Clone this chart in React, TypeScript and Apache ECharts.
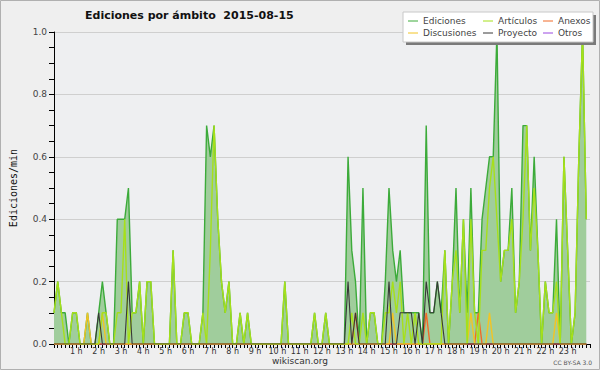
import React, { useEffect, useRef } from "react";
import * as echarts from "echarts";

// 10-minute bins over the day (edits per minute)
const ediciones = [
  0.1, 0.2, 0.1, 0.1, 0, 0.1, 0.1, 0, 0, 0.1,
  0, 0, 0.1, 0.2, 0.1, 0, 0, 0.4, 0.4, 0.4,
  0.5, 0.1, 0.1, 0.2, 0, 0.2, 0.2, 0, 0, 0,
  0, 0, 0.3, 0, 0, 0.1, 0.1, 0, 0, 0,
  0.1, 0.7, 0.6, 0.7, 0.4, 0.2, 0.1, 0.2, 0, 0,
  0.1, 0, 0.1, 0, 0, 0, 0, 0, 0, 0,
  0, 0, 0.2, 0, 0, 0, 0, 0, 0, 0,
  0.1, 0, 0, 0.1, 0, 0, 0, 0, 0, 0.6,
  0.3, 0.2, 0, 0.5, 0, 0.1, 0.1, 0, 0, 0.2,
  0.5, 0.3, 0.2, 0.3, 0.1, 0.1, 0.1, 0.1, 0.1, 0,
  0.7, 0.1, 0.1, 0.2, 0.1, 0.3, 0, 0.2, 0.5, 0.1,
  0.4, 0.1, 0.5, 0.1, 0.1, 0.4, 0.5, 0.6, 0.6, 1.0,
  0.2, 0.3, 0.3, 0.5, 0.1, 0.2, 0.7, 0.7, 0.3, 0.6,
  0.3, 0, 0.2, 0.1, 0.1, 0.4, 0, 0.6, 0.3, 0,
  0.1, 0.6, 1.0, 0.4,
];
const articulos = [
  0.1, 0.2, 0.1, 0, 0, 0.1, 0.1, 0, 0, 0,
  0, 0, 0, 0.1, 0.1, 0, 0, 0.1, 0.1, 0.4,
  0, 0.1, 0.1, 0.2, 0, 0.2, 0.2, 0, 0, 0,
  0, 0, 0.3, 0, 0, 0.1, 0.1, 0, 0, 0,
  0.1, 0, 0.3, 0.7, 0.4, 0.2, 0.1, 0.2, 0, 0,
  0.1, 0, 0.1, 0, 0, 0, 0, 0, 0, 0,
  0, 0, 0.2, 0, 0, 0, 0, 0, 0, 0,
  0.1, 0, 0, 0.1, 0, 0, 0, 0, 0, 0,
  0.1, 0, 0, 0.1, 0, 0.1, 0.1, 0, 0, 0.1,
  0.1, 0.2, 0.1, 0.2, 0, 0.1, 0, 0.1, 0, 0,
  0, 0, 0, 0, 0, 0.3, 0, 0.2, 0.3, 0.1,
  0.4, 0, 0.4, 0.1, 0, 0.3, 0.3, 0.5, 0.6, 0.4,
  0.2, 0.3, 0.3, 0.4, 0.1, 0.2, 0.4, 0.7, 0.3, 0.5,
  0.3, 0, 0.2, 0.1, 0.1, 0.2, 0, 0.6, 0.3, 0,
  0.1, 0.6, 1.0, 0.4,
];
const anexos = [
  0, 0, 0, 0, 0, 0, 0, 0, 0, 0,
  0, 0, 0, 0, 0, 0, 0, 0, 0, 0,
  0, 0, 0, 0, 0, 0, 0, 0, 0, 0,
  0, 0, 0, 0, 0, 0, 0, 0, 0, 0,
  0, 0, 0, 0, 0, 0, 0, 0, 0, 0,
  0, 0, 0, 0, 0, 0, 0, 0, 0, 0,
  0, 0, 0, 0, 0, 0, 0, 0, 0, 0,
  0, 0, 0, 0, 0, 0, 0, 0, 0, 0,
  0, 0.1, 0, 0, 0, 0, 0, 0, 0, 0,
  0, 0, 0, 0, 0, 0, 0, 0, 0, 0,
  0.1, 0, 0, 0, 0, 0, 0, 0, 0, 0,
  0, 0, 0, 0, 0.1, 0, 0, 0, 0, 0,
  0, 0, 0, 0, 0, 0, 0, 0, 0, 0,
  0, 0, 0, 0, 0, 0, 0, 0, 0, 0,
  0, 0, 0, 0,
];
const discusiones = [
  0, 0, 0, 0, 0, 0, 0, 0, 0, 0.1,
  0, 0, 0, 0.1, 0, 0, 0, 0, 0, 0,
  0, 0, 0, 0, 0, 0, 0, 0, 0, 0,
  0, 0, 0, 0, 0, 0, 0, 0, 0, 0,
  0, 0, 0, 0, 0, 0, 0, 0, 0, 0,
  0, 0, 0, 0, 0, 0, 0, 0, 0, 0,
  0, 0, 0, 0, 0, 0, 0, 0, 0, 0,
  0, 0, 0, 0, 0, 0, 0, 0, 0, 0,
  0, 0, 0, 0, 0, 0, 0, 0, 0, 0,
  0, 0.1, 0, 0, 0, 0, 0, 0, 0, 0,
  0, 0, 0, 0, 0, 0, 0, 0, 0, 0,
  0, 0, 0.1, 0, 0, 0, 0, 0.1, 0, 0,
  0, 0, 0, 0, 0, 0, 0, 0, 0, 0,
  0, 0, 0, 0, 0, 0.1, 0, 0, 0, 0,
  0, 0, 0, 0,
];
const proyecto = [
  0, 0, 0, 0, 0, 0, 0, 0, 0, 0,
  0, 0, 0.1, 0, 0, 0, 0, 0, 0, 0,
  0.2, 0, 0, 0, 0, 0, 0, 0, 0, 0,
  0, 0, 0, 0, 0, 0, 0, 0, 0, 0,
  0, 0, 0, 0, 0, 0, 0, 0, 0, 0,
  0, 0, 0, 0, 0, 0, 0, 0, 0, 0,
  0, 0, 0, 0, 0, 0, 0, 0, 0, 0,
  0, 0, 0, 0, 0, 0, 0, 0, 0, 0.2,
  0, 0.1, 0, 0, 0, 0, 0, 0, 0, 0,
  0.2, 0, 0, 0.1, 0.1, 0.1, 0.1, 0, 0.1, 0,
  0.2, 0.1, 0.1, 0.2, 0.1, 0, 0, 0, 0, 0,
  0, 0, 0, 0, 0, 0, 0, 0, 0, 0,
  0, 0, 0, 0, 0, 0, 0, 0, 0, 0,
  0, 0, 0, 0, 0, 0, 0, 0, 0, 0,
  0, 0, 0, 0,
];
const otros = [
  0, 0, 0, 0, 0, 0, 0, 0, 0, 0,
  0, 0, 0, 0, 0, 0, 0, 0, 0, 0,
  0, 0, 0, 0, 0, 0, 0, 0, 0, 0,
  0, 0, 0, 0, 0, 0, 0, 0, 0, 0,
  0, 0, 0, 0, 0, 0, 0, 0, 0, 0,
  0, 0, 0, 0, 0, 0, 0, 0, 0, 0,
  0, 0, 0, 0, 0, 0, 0, 0, 0, 0,
  0, 0, 0, 0, 0, 0, 0, 0, 0, 0,
  0, 0, 0, 0, 0, 0, 0, 0, 0, 0,
  0, 0, 0, 0, 0, 0, 0, 0, 0, 0,
  0, 0, 0, 0, 0, 0, 0, 0, 0, 0,
  0, 0, 0, 0, 0, 0, 0, 0, 0, 0,
  0, 0, 0, 0, 0, 0, 0, 0, 0, 0,
  0, 0, 0, 0, 0, 0, 0, 0, 0, 0,
  0, 0, 0, 0,
];

const BIN_MINUTES = 10;
const TITLE = "Ediciones por ámbito  2015-08-15";
const Y_NAME = "Ediciones/min";

const SERIES = [
  { name: "Ediciones", data: ediciones, color: "#3cab3a", area: true },
  { name: "Artículos", data: articulos, color: "#a6e01a", area: false },
  { name: "Anexos", data: anexos, color: "#f06a28", area: false },
  { name: "Discusiones", data: discusiones, color: "#f2c425", area: false },
  { name: "Proyecto", data: proyecto, color: "#383838", area: false },
  { name: "Otros", data: otros, color: "#9a48e0", area: false },
];
// legend layout: row 1 / row 2
const LEGEND_ROWS = [
  ["Ediciones", "Artículos", "Anexos"],
  ["Discusiones", "Proyecto", "Otros"],
];

const FONT = "'DejaVu Sans', sans-serif";

export default function App() {
  const ref = useRef<HTMLDivElement>(null);
  useEffect(() => {
    if (!ref.current) return;
    const chart = echarts.init(ref.current, null, { renderer: "svg" });

    const drawOrder = ["Ediciones", "Otros", "Anexos", "Discusiones", "Artículos", "Proyecto"];
    const series = drawOrder.map((n) => {
      const s = SERIES.find((x) => x.name === n)!;
      return {
        name: s.name,
        type: "line",
        symbol: "none",
        data: s.data.map((v, i) => [i * BIN_MINUTES, v]),
        lineStyle: { color: s.color, width: s.name === "Proyecto" ? 1.1 : 1.4 },
        itemStyle: { color: s.color },
        areaStyle: s.area ? { color: "#a0cd9c", opacity: 1 } : undefined,
        z: s.area ? 2 : 3,
      };
    });

    const colX = [408, 483, 543];
    const rowY = [21, 33];
    const legendEls: any[] = [
      { type: "rect", shape: { x: 406, y: 15, width: 190, height: 30 }, style: { fill: "#7a7a7a" } },
      { type: "rect", shape: { x: 403, y: 12, width: 190, height: 30 }, style: { fill: "#ffffff", stroke: "#c8c8c8", lineWidth: 1 } },
    ];
    LEGEND_ROWS.forEach((row, r) => {
      row.forEach((name, c) => {
        const s = SERIES.find((x) => x.name === name)!;
        legendEls.push({
          type: "line",
          shape: { x1: colX[c], y1: rowY[r], x2: colX[c] + 10, y2: rowY[r] },
          style: { stroke: s.color, lineWidth: 1 },
        });
        legendEls.push({
          type: "text",
          x: colX[c] + 15,
          y: rowY[r],
          style: { text: name, fill: "#444", font: `9px ${FONT}`, textVerticalAlign: "middle", textBaseline: "middle" },
        });
      });
    });

    chart.setOption({
      animation: false,
      backgroundColor: "#efefef",
      title: {
        text: TITLE,
        left: 80,
        top: 5,
        textStyle: { fontFamily: FONT, fontSize: 11, fontWeight: "bold", color: "#111" },
      },
      grid: { left: 46, right: 10, top: 32, bottom: 26, show: true, backgroundColor: "#eeeff1", borderWidth: 0 },
      xAxis: {
        type: "value",
        min: 0,
        max: 1440,
        interval: 60,
        axisLine: { lineStyle: { color: "#000", width: 1 } },
        axisTick: { show: true, length: 4, lineStyle: { color: "#000" } },
        minorTick: { show: true, splitNumber: 6, length: 4, lineStyle: { color: "#000" } },
        splitLine: { show: false },
        axisLabel: {
          fontFamily: FONT,
          fontSize: 8,
          color: "#333",
          margin: 3,
          formatter: (v: number) => (v === 0 || v === 1440 ? "" : `${v / 60} h`),
        },
      },
      yAxis: {
        type: "value",
        min: 0,
        max: 1,
        interval: 0.2,
        name: Y_NAME,
        nameLocation: "middle",
        nameRotate: 90,
        nameGap: 36,
        nameTextStyle: { fontFamily: "'DejaVu Sans Mono', monospace", fontSize: 10, color: "#111" },
        axisLine: { show: true, lineStyle: { color: "#000", width: 1 } },
        axisTick: { show: true, length: 5, lineStyle: { color: "#000" } },
        minorTick: { show: true, splitNumber: 4, length: 5, lineStyle: { color: "#000" } },
        splitLine: { show: true, lineStyle: { color: "#cfcfcf", width: 1 } },
        axisLabel: {
          fontFamily: FONT,
          fontSize: 9,
          color: "#444",
          margin: 7,
          formatter: (v: number) => v.toFixed(1),
        },
      },
      series,
      graphic: [
        { type: "rect", shape: { x: 0.5, y: 0.5, width: 599, height: 369 }, style: { fill: "none", stroke: "#b0b0b0", lineWidth: 1 }, z: 100 },
        ...legendEls.map((e) => ({ ...e, z: 50 })),
        { type: "text", x: 300, y: 361, style: { text: "wikiscan.org", fill: "#333", font: `9px ${FONT}`, textAlign: "center", textVerticalAlign: "middle", textBaseline: "middle" } },
        { type: "text", x: 592, y: 362, style: { text: "CC BY-SA 3.0", fill: "#555", font: `6px ${FONT}`, textAlign: "right", textVerticalAlign: "middle", textBaseline: "middle" } },
      ],
    });
    return () => chart.dispose();
  }, []);
  return <div ref={ref} style={{ width: 600, height: 370, position: "absolute", left: 0, top: 0 }} />;
}
